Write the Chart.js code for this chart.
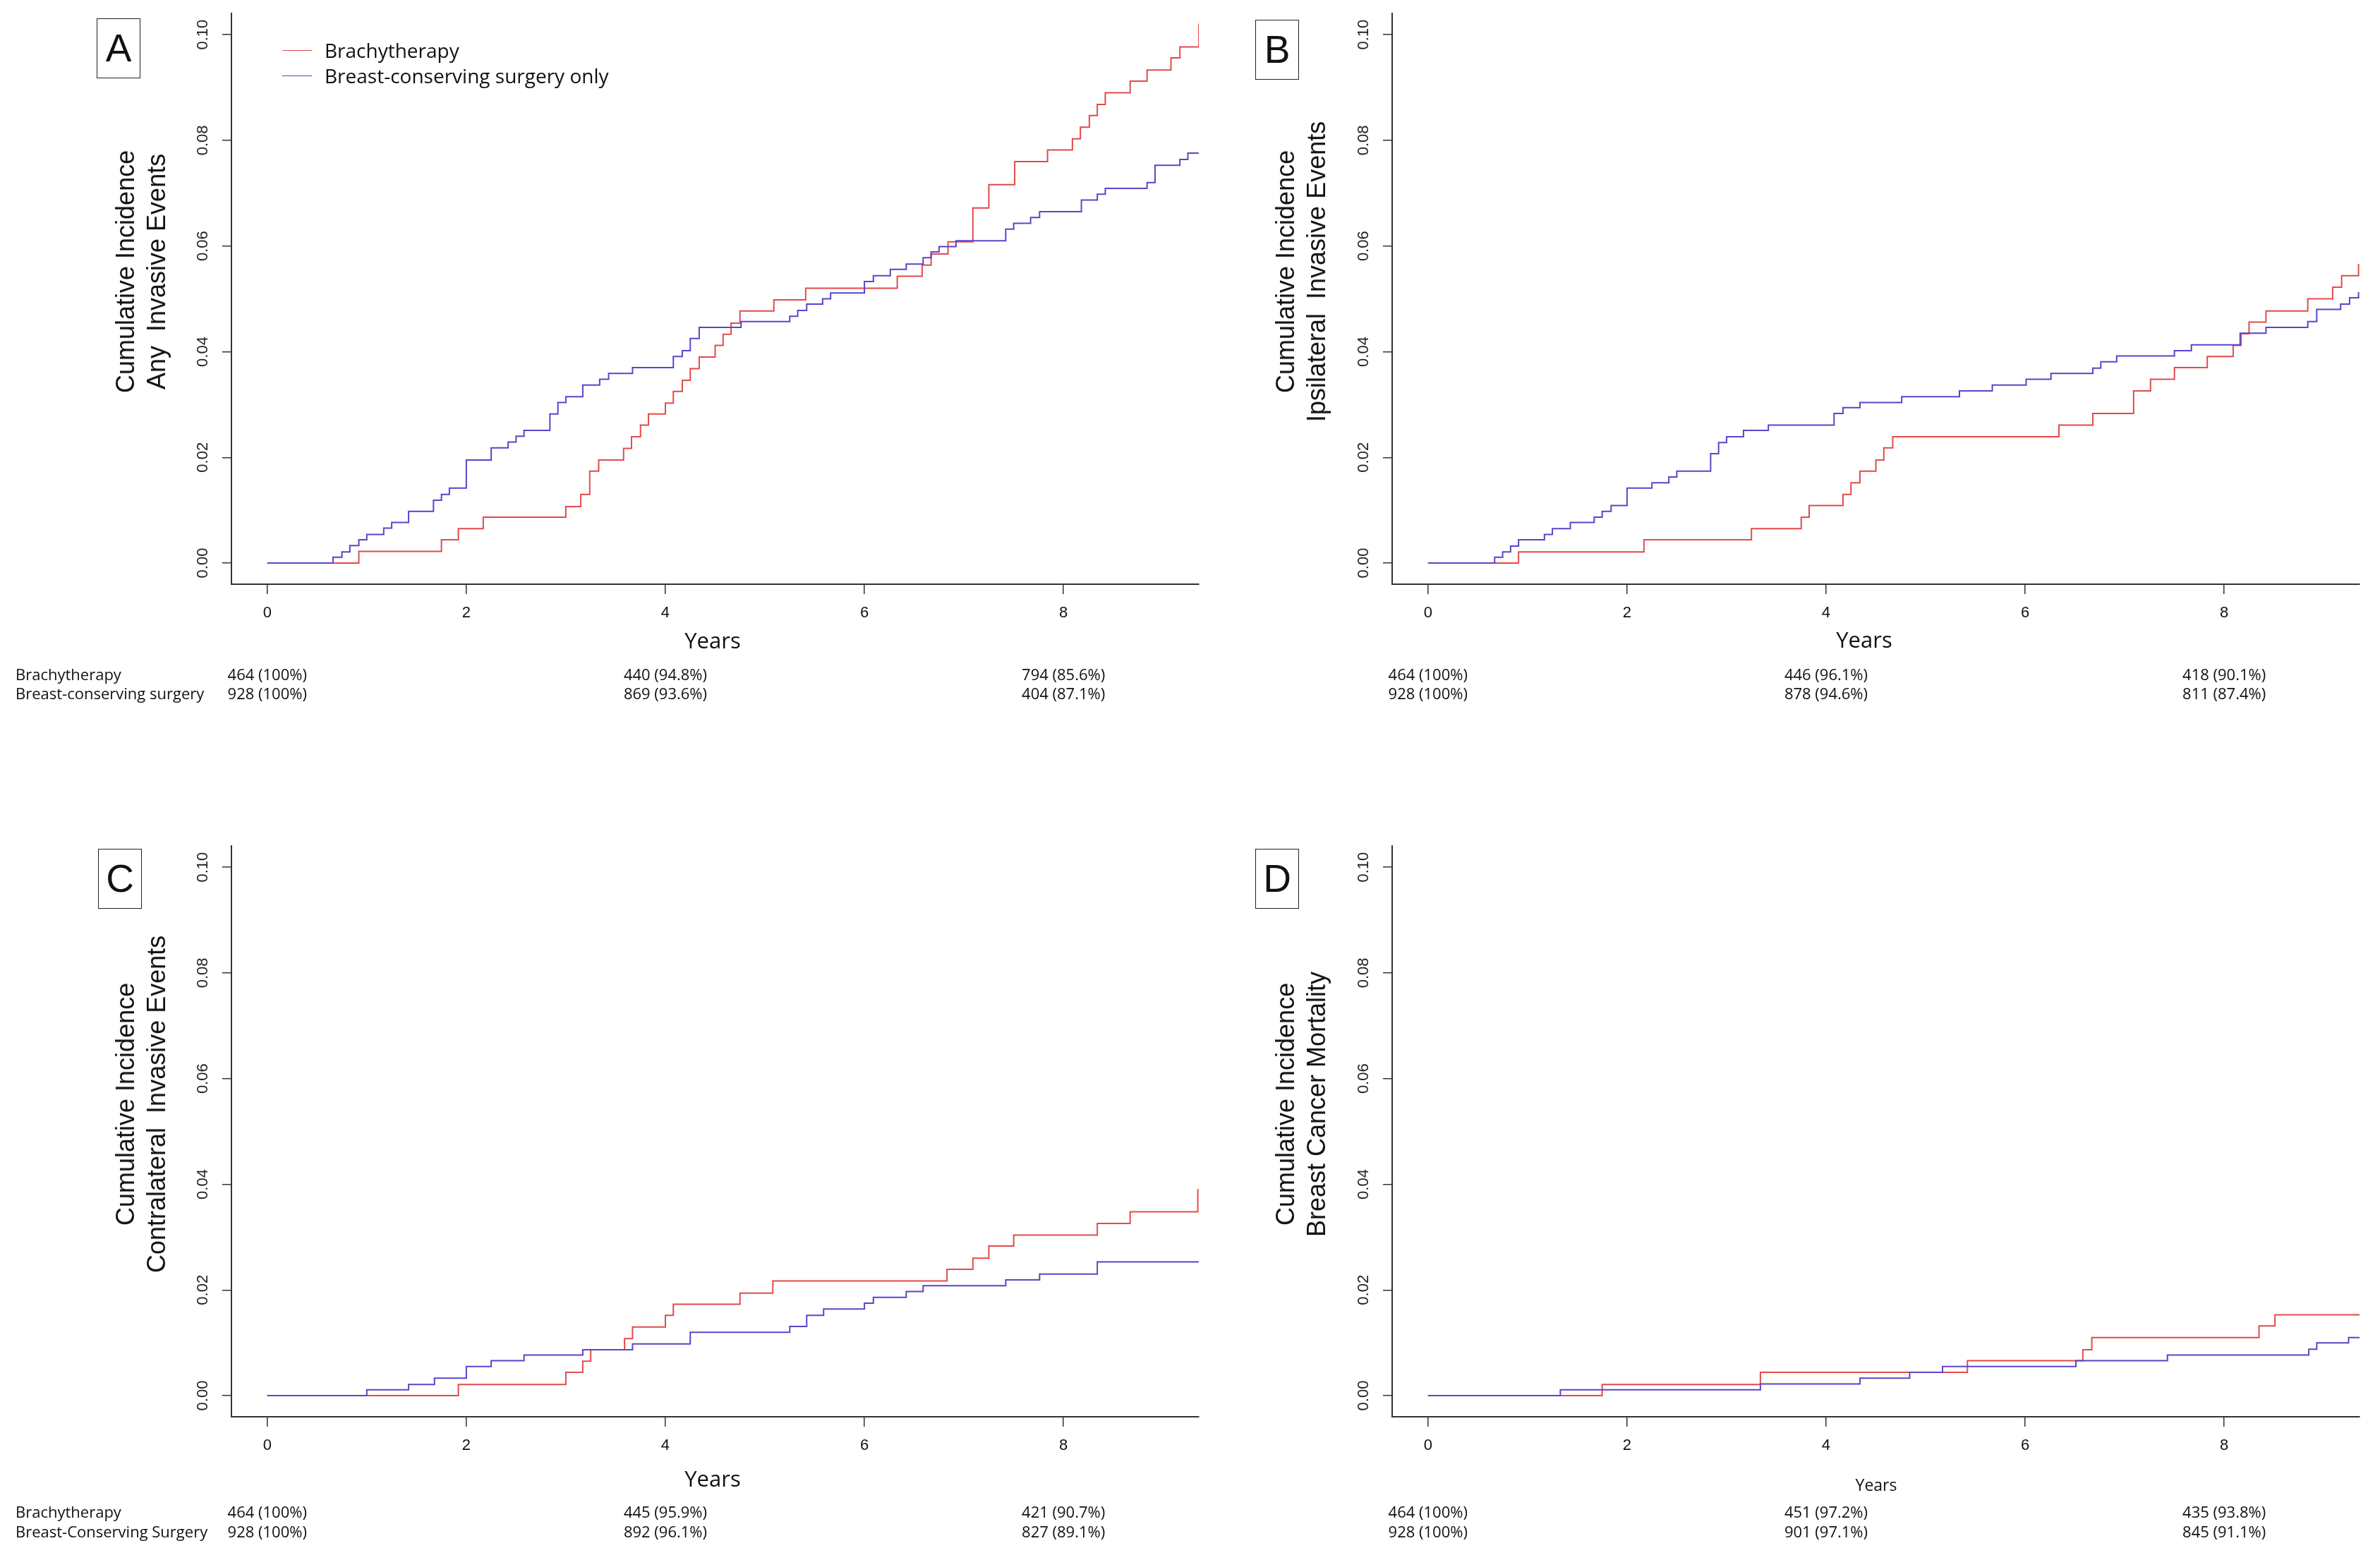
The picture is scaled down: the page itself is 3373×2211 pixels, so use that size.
<!DOCTYPE html>
<html>
<head>
<meta charset="utf-8">
<script src="https://cdn.jsdelivr.net/npm/chart.js@4.4.1/dist/chart.umd.min.js"></script>
<style>
  html, body { margin: 0; padding: 0; background: #fff; }
  #page { position: relative; width: 3373px; height: 2211px; overflow: hidden; background: #fff; }
  canvas { position: absolute; }
  .t { position: absolute; white-space: nowrap; color: #111; z-index: 2; }
  .c { transform: translate(-50%, -50%); }
  .rot { transform: translate(-50%, -50%) rotate(-90deg); text-align: center; font-family: "Liberation Sans", Arial, sans-serif; font-size: 36px; line-height: 44px; }
  .box { position: absolute; width: 60px; height: 83px; border: 1.5px solid #222; font-family: "Liberation Sans", Arial, sans-serif; font-size: 55px; line-height: 83px; text-align: center; color: #111; }
  .os { font-family: "Open Sans", sans-serif; }
  .leg { position: absolute; width: 42px; height: 0; border-top: 1.5px solid; }
</style>
</head>
<body>
<div id="page"></div>
<script>
// axis ticks
var xTicks = [0, 2, 4, 6, 8];
var yTicks = [0, 0.02, 0.04, 0.06, 0.08, 0.10];

// A: any invasive events
var aBrachyYears = [0, 0.92, 1.75, 1.92, 2.17, 3.0, 3.15, 3.24, 3.33, 3.58, 3.66, 3.75, 3.83, 4.0, 4.08, 4.17, 4.25, 4.34, 4.5, 4.58, 4.66, 4.75, 5.09, 5.41, 6.33, 6.58, 6.67, 6.84, 7.09, 7.25, 7.51, 7.84, 8.09, 8.17, 8.26, 8.34, 8.42, 8.67, 8.84, 9.08, 9.17, 9.36];
var aBrachyInc = [0, 0.0022, 0.0044, 0.0065, 0.0087, 0.0107, 0.0130, 0.0174, 0.0195, 0.0217, 0.0239, 0.0261, 0.0282, 0.0303, 0.0325, 0.0346, 0.0368, 0.0390, 0.0412, 0.0433, 0.0454, 0.0477, 0.0498, 0.0520, 0.0543, 0.0564, 0.0585, 0.0608, 0.0672, 0.0716, 0.0760, 0.0782, 0.0803, 0.0825, 0.0847, 0.0868, 0.0890, 0.0912, 0.0933, 0.0956, 0.0977, 0.1021];
var aBcsYears = [0, 0.66, 0.75, 0.83, 0.92, 1.0, 1.17, 1.25, 1.42, 1.67, 1.75, 1.83, 2.0, 2.25, 2.42, 2.5, 2.58, 2.84, 2.92, 3.0, 3.17, 3.34, 3.43, 3.67, 4.08, 4.17, 4.25, 4.34, 4.76, 5.25, 5.33, 5.42, 5.58, 5.66, 6.0, 6.09, 6.26, 6.42, 6.59, 6.67, 6.75, 6.92, 7.42, 7.5, 7.67, 7.76, 8.18, 8.34, 8.42, 8.84, 8.92, 9.17, 9.25, 9.37];
var aBcsInc = [0, 0.0011, 0.0021, 0.0033, 0.0044, 0.0054, 0.0066, 0.0077, 0.0098, 0.0119, 0.0130, 0.0142, 0.0195, 0.0218, 0.0229, 0.0240, 0.0251, 0.0282, 0.0304, 0.0315, 0.0337, 0.0348, 0.0359, 0.0370, 0.0391, 0.0402, 0.0425, 0.0446, 0.0457, 0.0467, 0.0478, 0.0490, 0.0500, 0.0511, 0.0533, 0.0544, 0.0556, 0.0566, 0.0578, 0.0589, 0.0599, 0.0610, 0.0632, 0.0643, 0.0654, 0.0665, 0.0687, 0.0698, 0.0709, 0.0720, 0.0753, 0.0764, 0.0776, 0.0776];

// B: ipsilateral invasive events
var bBrachyYears = [0, 0.91, 2.17, 3.25, 3.75, 3.83, 4.17, 4.25, 4.34, 4.5, 4.58, 4.67, 6.34, 6.68, 7.09, 7.26, 7.5, 7.83, 8.09, 8.17, 8.25, 8.42, 8.84, 9.09, 9.18, 9.35];
var bBrachyInc = [0, 0.0021, 0.0044, 0.0065, 0.0087, 0.0109, 0.0130, 0.0152, 0.0174, 0.0195, 0.0218, 0.0239, 0.0261, 0.0283, 0.0326, 0.0348, 0.0370, 0.0391, 0.0412, 0.0434, 0.0456, 0.0477, 0.0500, 0.0522, 0.0544, 0.0566];
var bBcsYears = [0, 0.67, 0.75, 0.83, 0.91, 1.17, 1.25, 1.43, 1.67, 1.75, 1.84, 2.0, 2.25, 2.42, 2.5, 2.84, 2.92, 3.0, 3.17, 3.42, 4.08, 4.17, 4.34, 4.76, 5.34, 5.67, 6.01, 6.26, 6.68, 6.76, 6.92, 7.5, 7.67, 8.16, 8.42, 8.84, 8.93, 9.17, 9.26, 9.35];
var bBcsInc = [0, 0.0011, 0.0021, 0.0032, 0.0044, 0.0054, 0.0065, 0.0077, 0.0087, 0.0098, 0.0109, 0.0142, 0.0152, 0.0163, 0.0174, 0.0207, 0.0228, 0.0239, 0.0251, 0.0261, 0.0283, 0.0294, 0.0304, 0.0315, 0.0326, 0.0337, 0.0348, 0.0359, 0.0369, 0.0381, 0.0392, 0.0402, 0.0413, 0.0435, 0.0446, 0.0457, 0.0480, 0.0490, 0.0502, 0.0513];

// C: contralateral invasive events
var cBrachyYears = [0, 1.92, 3.0, 3.17, 3.25, 3.59, 3.67, 4.0, 4.08, 4.75, 5.08, 6.83, 7.09, 7.25, 7.5, 8.34, 8.67, 9.35];
var cBrachyInc = [0, 0.0021, 0.0044, 0.0065, 0.0087, 0.0108, 0.0130, 0.0152, 0.0173, 0.0194, 0.0217, 0.0239, 0.0260, 0.0283, 0.0304, 0.0326, 0.0348, 0.0391];
var cBcsYears = [0, 1.0, 1.42, 1.68, 2.0, 2.25, 2.58, 3.17, 3.67, 4.25, 5.25, 5.42, 5.59, 6.0, 6.09, 6.42, 6.59, 7.42, 7.76, 8.34, 9.37];
var cBcsInc = [0, 0.0011, 0.0021, 0.0033, 0.0055, 0.0066, 0.0077, 0.0087, 0.0098, 0.0120, 0.0131, 0.0152, 0.0164, 0.0175, 0.0186, 0.0197, 0.0208, 0.0219, 0.0230, 0.0253, 0.0253];

// D: breast cancer mortality
var dBrachyYears = [0, 1.75, 3.34, 5.42, 6.58, 6.67, 8.35, 8.51, 9.37];
var dBrachyInc = [0, 0.0021, 0.0044, 0.0066, 0.0087, 0.0110, 0.0132, 0.0153, 0.0153];
var dBcsYears = [0, 1.33, 3.34, 4.34, 4.84, 5.17, 6.51, 7.43, 8.85, 8.93, 9.25, 9.37];
var dBcsInc = [0, 0.0011, 0.0022, 0.0033, 0.0044, 0.0055, 0.0066, 0.0077, 0.0088, 0.0100, 0.0110, 0.0110];

// numbers at risk (years 0, 4, 8)
var riskYears = [0, 4, 8];
var aRiskBrachy = ['464 (100%)', '440 (94.8%)', '794 (85.6%)'];
var aRiskBcs = ['928 (100%)', '869 (93.6%)', '404 (87.1%)'];
var bRiskBrachy = ['464 (100%)', '446 (96.1%)', '418 (90.1%)'];
var bRiskBcs = ['928 (100%)', '878 (94.6%)', '811 (87.4%)'];
var cRiskBrachy = ['464 (100%)', '445 (95.9%)', '421 (90.7%)'];
var cRiskBcs = ['928 (100%)', '892 (96.1%)', '827 (89.1%)'];
var dRiskBrachy = ['464 (100%)', '451 (97.2%)', '435 (93.8%)'];
var dRiskBcs = ['928 (100%)', '901 (97.1%)', '845 (91.1%)'];

var red = '#e34a4a';
var blue = '#5c43c9';
var page = document.getElementById('page');

function pts(xs, ys) {
  return xs.map(function (x, i) { return { x: x, y: ys[i] }; });
}

function addText(html, x, y, cls, css) {
  var d = document.createElement('div');
  d.className = 't ' + (cls || '');
  d.innerHTML = html;
  d.style.left = x + 'px';
  d.style.top = y + 'px';
  if (css) d.style.cssText += css;
  page.appendChild(d);
  return d;
}

function makePanel(left, top, brachyX, brachyY, bcsX, bcsY) {
  var cv = document.createElement('canvas');
  cv.width = 1720; cv.height = 1000;
  cv.style.left = left + 'px';
  cv.style.top = top + 'px';
  page.appendChild(cv);
  return new Chart(cv.getContext('2d'), {
    type: 'line',
    data: {
      datasets: [{
        label: 'Breast-conserving surgery only',
        data: pts(bcsX, bcsY),
        borderColor: blue,
        borderWidth: 2,
        stepped: true,
        pointRadius: 0,
        fill: false
      }, {
        label: 'Brachytherapy',
        data: pts(brachyX, brachyY),
        borderColor: red,
        borderWidth: 2,
        stepped: true,
        pointRadius: 0,
        fill: false
      }]
    },
    options: {
      responsive: false,
      animation: false,
      devicePixelRatio: 1,
      layout: { padding: { top: 19, right: 21, left: 0, bottom: 0 } },
      plugins: { legend: { display: false }, tooltip: { enabled: false } },
      scales: {
        x: {
          type: 'linear', min: -0.36, max: 9.36,
          afterBuildTicks: function (s) { s.ticks = xTicks.map(function (v) { return { value: v }; }); },
          afterFit: function (s) { s.height = 172; },
          grid: { drawOnChartArea: false, drawTicks: true, tickLength: 14, color: '#333', lineWidth: 1.5 },
          border: { display: true, color: '#333', width: 2 },
          ticks: { font: { family: 'Liberation Sans', size: 22 }, color: '#111', padding: 14, maxRotation: 0, autoSkip: false }
        },
        y: {
          type: 'linear', min: -0.004, max: 0.104,
          afterBuildTicks: function (s) { s.ticks = yTicks.map(function (v) { return { value: v }; }); },
          afterFit: function (s) { s.width = 328; },
          grid: { drawOnChartArea: false, drawTicks: true, tickLength: 13, color: '#333', lineWidth: 1.5 },
          border: { display: true, color: '#333', width: 2 },
          ticks: {
            font: { family: 'Liberation Sans', size: 22 }, color: '#222',
            minRotation: 90, maxRotation: 90, crossAlign: 'center', padding: 6, autoSkip: false,
            callback: function (v) { return v.toFixed(2); }
          }
        }
      }
    }
  });
}

var panels = [
  { left: 0, top: 0, bx: aBrachyYears, by: aBrachyInc, sx: aBcsYears, sy: aBcsInc, letter: 'A', box: [137, 26],
    title: 'Cumulative Incidence<br>Any&nbsp; Invasive Events', tc: [200, 385],
    years: [1010, 907, 31], rows: [955, 982], risk: [aRiskBrachy, aRiskBcs], labels: ['Brachytherapy', 'Breast-conserving surgery'] },
  { left: 1645, top: 0, bx: bBrachyYears, by: bBrachyInc, sx: bBcsYears, sy: bBcsInc, letter: 'B', box: [1779, 28],
    title: 'Cumulative Incidence<br>Ipsilateral&nbsp; Invasive Events', tc: [1844, 385],
    years: [2642, 906, 31], rows: [955, 982], risk: [bRiskBrachy, bRiskBcs], labels: null },
  { left: 0, top: 1180, bx: cBrachyYears, by: cBrachyInc, sx: cBcsYears, sy: cBcsInc, letter: 'C', box: [139, 1203],
    title: 'Cumulative Incidence<br>Contralateral&nbsp; Invasive Events', tc: [200, 1565],
    years: [1010, 2095, 31], rows: [2142, 2170], risk: [cRiskBrachy, cRiskBcs], labels: ['Brachytherapy', 'Breast-Conserving Surgery'] },
  { left: 1645, top: 1180, bx: dBrachyYears, by: dBrachyInc, sx: dBcsYears, sy: dBcsInc, letter: 'D', box: [1779, 1203],
    title: 'Cumulative Incidence<br>Breast Cancer Mortality', tc: [1844, 1565],
    years: [2659, 2104, 23], rows: [2142, 2170], risk: [dRiskBrachy, dRiskBcs], labels: null }
];

panels.forEach(function (p) {
  var ch = makePanel(p.left, p.top, p.bx, p.by, p.sx, p.sy);
  var b = document.createElement('div');
  b.className = 'box';
  b.textContent = p.letter;
  b.style.left = p.box[0] + 'px';
  b.style.top = p.box[1] + 'px';
  page.appendChild(b);
  addText(p.title, p.tc[0], p.tc[1], 'rot');
  addText('Years', p.years[0], p.years[1], 'c os', 'font-size:' + p.years[2] + 'px;');
  var xs = ch.scales.x;
  p.risk.forEach(function (row, r) {
    row.forEach(function (txt, i) {
      addText(txt, p.left + xs.getPixelForValue(riskYears[i]), p.rows[r], 'c os', 'font-size:22px;');
    });
    if (p.labels) {
      addText(p.labels[r], 22, p.rows[r], 'os', 'font-size:22px; transform: translateY(-50%);');
    }
  });
});

// legend of panel A
var legItems = [['Brachytherapy', red, 71], ['Breast-conserving surgery only', blue, 107]];
legItems.forEach(function (it) {
  var l = document.createElement('div');
  l.className = 'leg';
  l.style.left = '400px';
  l.style.top = it[2] + 'px';
  l.style.borderColor = it[1];
  page.appendChild(l);
  addText(it[0], 460, it[2], 'os', 'font-size:28px; transform: translateY(-50%);');
});
</script>
</body>
</html>
